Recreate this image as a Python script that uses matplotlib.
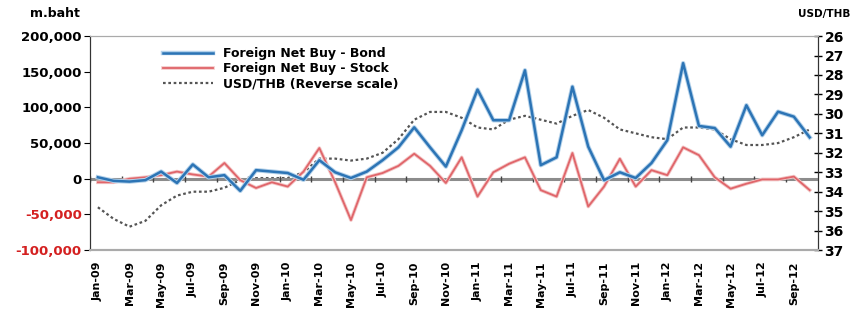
import matplotlib.pyplot as plt
import matplotlib.patheffects as pe
import numpy as np

months = ["Jan", "Feb", "Mar", "Apr", "May", "Jun", "Jul", "Aug", "Sep", "Oct", "Nov", "Dec"]
labels = [f"{m}-{y:02d}" for y in range(9, 13) for m in months][:46]

bond = [2000, -3000, -4000, -2000, 10000, -6000, 20000, 2000, 5000, -17000, 12000, 10000,
        8000, -1500, 26000, 9000, 1000, 10000, 26000, 44000, 72000, 44000, 17000, 68000,
        125000, 82000, 82000, 152000, 19000, 30000, 129000, 45000, -2000, 9000, 1000, 22000,
        54000, 162000, 74000, 71000, 45000, 103000, 61000, 94000, 87000, 58000]

stock = [-5000, -5000, 0, 2000, 5000, 10000, 6000, 3000, 22000, -2000, -13000, -5000,
         -11000, 10000, 43000, -5000, -58000, 2000, 8000, 18000, 35000, 18000, -6000, 30000,
         -25000, 9000, 21000, 30000, -16000, -25000, 36000, -39000, -11000, 28000, -11000, 12000,
         5000, 44000, 33000, 2000, -14000, -7000, -1000, -1000, 3000, -16000]

usdthb = [34.8, 35.4, 35.8, 35.5, 34.7, 34.2, 34.0, 34.0, 33.8, 33.4, 33.3, 33.3,
          33.3, 33.0, 32.3, 32.3, 32.4, 32.3, 32.0, 31.3, 30.3, 29.9, 29.9, 30.2,
          30.7, 30.8, 30.3, 30.1, 30.3, 30.5, 30.1, 29.8, 30.2, 30.8, 31.0, 31.2,
          31.3, 30.7, 30.7, 30.8, 31.3, 31.6, 31.6, 31.5, 31.2, 30.8]

left_ticks = [200000, 150000, 100000, 50000, 0, -50000, -100000]
right_ticks = list(range(26, 38))

BLUE = "#2c74b5"
RED = "#e0656a"
GREY = "#555555"
BG = "#e8e8e8"

x = np.arange(len(labels))
fig = plt.figure(figsize=(8.52, 3.11), dpi=100)
ax = fig.add_axes([0.1056, 0.196, 0.854, 0.688])
ax2 = ax.twinx()
ax2.set_zorder(0)
ax.set_zorder(1)
ax.patch.set_visible(False)
ax2.patch.set_facecolor(BG)

# white separators every two months
for xi in x[::2]:
    ax2.axvline(xi - 0.5, color="white", lw=1.6, zorder=0)

ax.axhline(0, color="#8c8c8c", lw=2.2, zorder=1)
ax.plot(x[::2] - 0.5, np.zeros(len(x[::2])), ls="none", marker="|", ms=4,
        mew=1, color="#444444", zorder=1)

ax.plot(x, bond, color=BLUE, lw=1.8, zorder=4, label="Foreign Net Buy - Bond",
        path_effects=[pe.Stroke(linewidth=3.2, foreground="#b3d1ea"), pe.Normal()])
ax.plot(x, stock, color=RED, lw=1.3, zorder=3, label="Foreign Net Buy - Stock",
        path_effects=[pe.Stroke(linewidth=2.6, foreground="#f3c6c6"), pe.Normal()])

ax2.plot(x, usdthb, color=GREY, lw=1.6, ls=(0, (1.2, 1.2)), zorder=2,
         label="USD/THB (Reverse scale)")
ax2.set_ylim(37, 26)
ax2.set_yticks(right_ticks)
ax2.tick_params(axis="y", direction="inout", length=6, width=1, labelsize=10, pad=2)
for t in ax2.get_yticklabels():
    t.set_fontweight("bold")

ax.set_xlim(-0.5, len(x) - 0.5)
ax.set_ylim(-100000, 200000)
ax.set_yticks(left_ticks)
ax.set_yticklabels([f"{v:,}" for v in left_ticks], fontweight="bold", fontsize=9.5)
for t, v in zip(ax.get_yticklabels(), left_ticks):
    if v < 0:
        t.set_color("#d42020")
ax.tick_params(axis="y", direction="out", length=4, pad=2)

ax.set_xticks(x[::2])
ax.set_xticklabels(labels[::2], rotation=90, fontsize=8, fontweight="bold")
ax.tick_params(axis="x", length=0, pad=8)

for a in (ax, ax2):
    a.spines["top"].set_color("#aaaaaa")
    a.spines["bottom"].set_color("#aaaaaa")
    a.spines["bottom"].set_linewidth(1.5)
    a.spines["left"].set_color("#333333")
    a.spines["right"].set_color("#333333")

fig.text(0.065, 0.955, "m.baht", ha="center", va="center", fontsize=9, fontweight="bold")
fig.text(0.998, 0.955, "USD/THB", ha="right", va="center", fontsize=7.5, fontweight="bold")

h1, l1 = ax.get_legend_handles_labels()
h2, l2 = ax2.get_legend_handles_labels()
leg = ax.legend(h1 + h2, l1 + l2, loc="upper left", bbox_to_anchor=(0.085, 1.0),
                frameon=False, fontsize=9, handlelength=4, labelspacing=0.15)
for t in leg.get_texts():
    t.set_fontweight("bold")

fig.savefig("out.png", dpi=100)
